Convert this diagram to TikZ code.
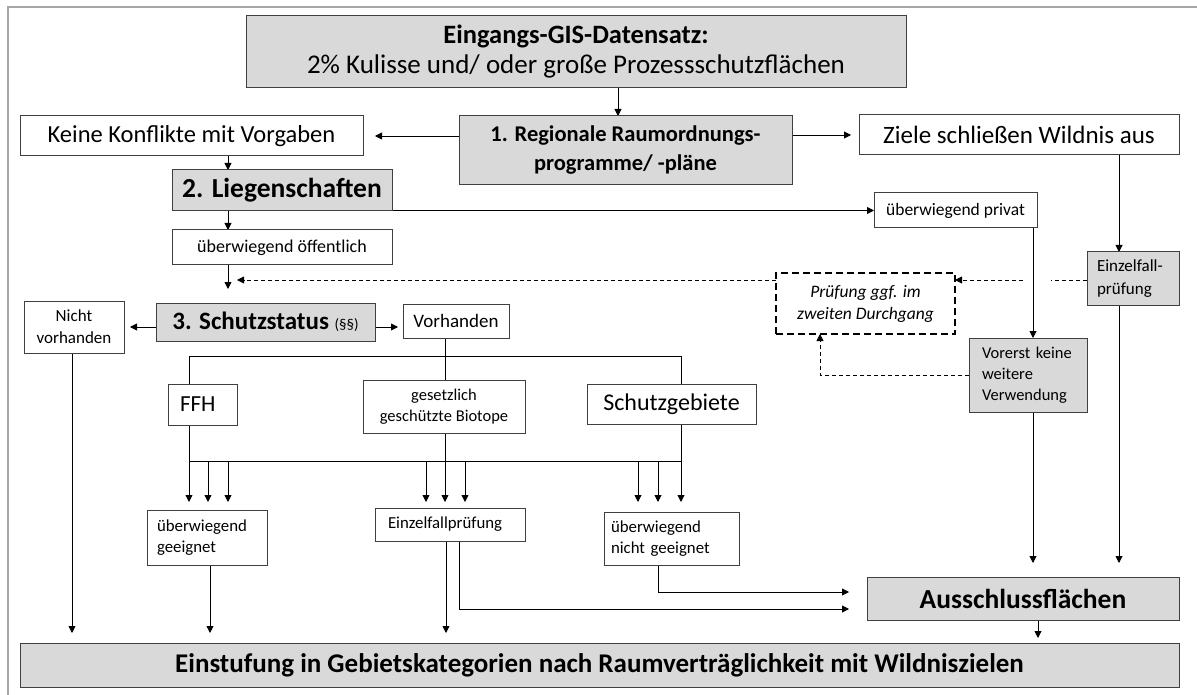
\documentclass[tikz,border=0pt]{standalone}
\usepackage{fontspec}
\setmainfont{Carlito}
\usetikzlibrary{arrows.meta,backgrounds}
\definecolor{boxgray}{HTML}{D9D9D9}
\definecolor{edgec}{HTML}{404040}
\definecolor{framec}{HTML}{A6A6A6}
\newcommand\myfs[2]{\fontsize{#1}{#2}\selectfont}
\begin{document}
\begin{tikzpicture}[x=1pt,y=-1pt,
  box/.style={draw=edgec, line width=1pt, fill=white, inner sep=0pt, outer sep=0pt, align=center},
  gbox/.style={box, fill=boxgray},
  ln/.style={draw=black, line width=0.9pt},
  arr/.style={ln, -{Triangle[length=7pt,width=7pt]}},
  dln/.style={draw=black, line width=0.8pt, dash pattern=on 4pt off 3pt},
  darr/.style={dln, -{Triangle[length=7pt,width=7pt]}},
  dbox/.style={draw=black, line width=2pt, dash pattern=on 7pt off 4pt, fill=white, inner sep=0pt, outer sep=0pt, align=center}
]
\useasboundingbox (0,0) rectangle (1197,695);

% nodes
\node[gbox, minimum width=660pt, minimum height=72pt, font=\myfs{26.5}{30}] (top) at (576,52)
  {\bfseries Eingangs-GIS-Datensatz:\\ \mdseries\myfs{27}{30}2\% Kulisse und/ oder große Prozessschutzflächen};
\node[box, minimum width=343pt, minimum height=40pt, font=\myfs{24.5}{28}] (keine) at (191.5,136)
  {Keine Konflikte mit Vorgaben};
\node[gbox, minimum width=333pt, minimum height=69pt, font=\myfs{22.5}{29}\bfseries] (b1) at (625.5,150.5)
  {1. Regionale Raumordnungs-\\programme/ -pläne};
\node[box, minimum width=320pt, minimum height=40pt, font=\myfs{25}{28}] (ziele) at (1019,135)
  {Ziele schließen Wildnis aus};
\node[gbox, minimum width=220pt, minimum height=41pt, font=\myfs{27.5}{31}\bfseries] (liegen) at (282,190.5)
  {2. Liegenschaften};
\node[box, minimum width=163pt, minimum height=35pt, font=\myfs{17.5}{21}] (privat) at (955.5,210.5)
  {überwiegend privat};
\node[box, minimum width=220pt, minimum height=35pt, font=\myfs{18}{22}] (oeff) at (282,247.5)
  {überwiegend öffentlich};
\node[gbox, minimum width=219pt, minimum height=38pt, font=\myfs{25}{29}] (schutz) at (265.5,322)
  {\bfseries 3. Schutzstatus \mdseries\myfs{15}{18}(§§)};
\node[box, minimum width=100pt, minimum height=52pt, font=\myfs{17}{22}] (nicht) at (74,327)
  {Nicht\\vorhanden};
\node[box, minimum width=106pt, minimum height=34pt, font=\myfs{19}{23}] (vorh) at (456,321)
  {Vorhanden};
\node[box, minimum width=69pt, minimum height=41pt, text width=45pt, align=left, font=\myfs{23}{26}] (ffh) at (202.5,404.5)
  {FFH};
\node[box, minimum width=162pt, minimum height=53pt, font=\myfs{16.5}{21}] (gesetz) at (444,406.5)
  {gesetzlich\\geschützte Biotope};
\node[box, minimum width=169pt, minimum height=40pt, font=\myfs{24}{27}] (schgeb) at (671.5,404)
  {Schutzgebiete};
\node[dbox, minimum width=179pt, minimum height=61pt, font=\myfs{17.5}{22}\itshape] (pruef) at (865.5,303.5)
  {Prüfung ggf. im\\zweiten Durchgang};
\node[gbox, minimum width=118pt, minimum height=74pt, text width=92pt, align=left, font=\myfs{16.5}{21}] (vorerst) at (1028,375)
  {Vorerst keine\\weitere\\Verwendung};
\node[gbox, minimum width=92pt, minimum height=53pt, text width=72pt, align=left, font=\myfs{17}{23}] (einzel) at (1133,278.5)
  {Einzelfall-\\prüfung};
\node[box, minimum width=120pt, minimum height=55pt, text width=100pt, align=left, font=\myfs{16.8}{21}] (geeig) at (207,537.5)
  {überwiegend\\geeignet};
\node[box, minimum width=150pt, minimum height=33pt, text width=124pt, align=left, font=\myfs{16.8}{21}] (einzpr) at (450,524.5)
  {Einzelfallprüfung};
\node[box, minimum width=135pt, minimum height=53pt, text width=121pt, align=left, font=\myfs{16.8}{21}] (nichtg) at (671.5,538.5)
  {überwiegend\\nicht geeignet};
\node[gbox, minimum width=312pt, minimum height=43pt, font=\myfs{27.5}{31}\bfseries] (aus) at (1023,598.5)
  {Ausschlussflächen};
\node[gbox, minimum width=1159pt, minimum height=44pt, font=\myfs{27}{30}\bfseries] (bot) at (599.5,665)
  {Einstufung in Gebietskategorien nach Raumverträglichkeit mit Wildniszielen};

% helper coordinates
\coordinate (tx) at (618,0);
\coordinate (cx) at (228,0);
\coordinate (px) at (1033,0);
\coordinate (zx) at (1119,0);
\coordinate (dy) at (0,280);
\coordinate (gapR) at (1051,280);
\coordinate (gapL) at (1023,280);
\coordinate (vx) at (820,0);
\coordinate (gx) at (445,0);
\coordinate (ffx) at (189,0);
\coordinate (sgx) at (681,0);
\coordinate (by) at (0,356);
\coordinate (hy) at (0,461);
\coordinate (ty) at (0,502);
\coordinate (by2) at (0,633);
\coordinate (ay1) at (0,592);
\coordinate (ay2) at (0,609);

\begin{pgfonlayer}{background}
\fill[white] (0,0) rectangle (1197,695);
\draw[framec, line width=2pt] (8,695) -- (8,7) -- (1197,7);
\draw[arr] (top.south -| tx) -- (b1.north -| tx);
\draw[arr] (b1.west |- keine.east) -- ([xshift=12pt]keine.east);
\draw[arr] (b1.east |- ziele.west) -- ([xshift=-8pt]ziele.west);
\draw[arr] (keine.south -| cx) -- (liegen.north -| cx);
\draw[arr] (liegen.south -| cx) -- (oeff.north -| cx);
\draw[arr, shorten >=14pt] (oeff.south -| cx) -- (schutz.north -| cx);
\draw[arr] (liegen.east |- privat.west) -- (privat.west);
\draw[arr] (privat.south -| px) -- (vorerst.north -| px);
\draw[arr] (ziele.south -| zx) -- (einzel.north -| zx);
\draw[dln] (einzel.west |- dy) -- (gapR);
\draw[darr] (gapL) -- (pruef.east |- dy);
\draw[darr, shorten >=9pt] (pruef.west |- dy) -- (cx |- dy);
\draw[darr] (vorerst.west) -| (pruef.south -| vx);
\draw[arr] (schutz.west |- nicht.east) -- ([xshift=6pt]nicht.east);
\draw[arr] (schutz.east |- nicht.east) -- ([xshift=-5pt]vorh.west |- nicht.east);
\draw[ln] (vorh.south -| gx) -- (gesetz.north -| gx);
\draw[ln] (ffx |- by) -- (sgx |- by) -- (schgeb.north -| sgx);
\draw[arr] (ffx |- by) -- (ffx |- ty);
\draw[ln] (ffx |- hy) -- (sgx |- hy);
\draw[arr] (gesetz.south -| gx) -- (gx |- ty);
\draw[arr] (schgeb.south -| sgx) -- (sgx |- ty);
\foreach \xx in {208,228,426,465,638,658}{
  \coordinate (tt) at (\xx,0);
  \draw[arr] (hy -| tt) -- (ty -| tt);
}
\draw[arr] ([xshift=-2pt]nicht.south) -- ([xshift=-2pt]nicht.south |- by2);
\draw[arr] ([xshift=3pt]geeig.south) -- ([xshift=3pt]geeig.south |- by2);
\draw[arr] ([xshift=-4pt]einzpr.south) -- ([xshift=-4pt]einzpr.south |- by2);
\draw[arr, shorten >=18pt] ([xshift=9pt]einzpr.south) |- (aus.west |- ay2);
\draw[arr, shorten >=18pt] ([xshift=-13.5pt]nichtg.south) |- (aus.west |- ay1);
\draw[arr, shorten >=14pt] (vorerst.south -| px) -- (aus.north -| px);
\draw[arr, shorten >=14pt] (einzel.south -| zx) -- (aus.north -| zx);
\draw[arr, shorten >=5pt] ([xshift=15pt]aus.south) -- ([xshift=15pt]aus.south |- bot.north);
\end{pgfonlayer}
\end{tikzpicture}
\end{document}
